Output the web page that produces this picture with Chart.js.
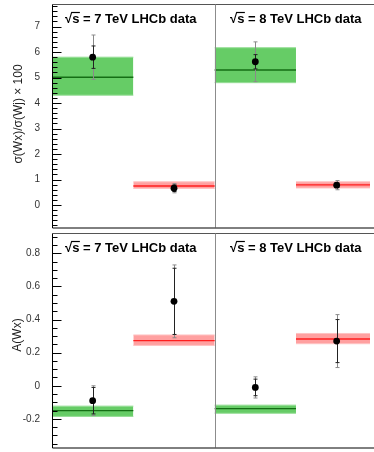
<!DOCTYPE html>
<html>
<head>
<meta charset="utf-8">
<script src="https://cdn.jsdelivr.net/npm/chart.js@4.4.1/dist/chart.umd.min.js"></script>
<style>
  html, body { margin: 0; padding: 0; background: #fff; }
  #wrap { position: relative; width: 374px; height: 452px; overflow: hidden; }
  canvas { position: absolute; left: 0; }
  #ratio { top: 0; }
  #asym { top: 229px; }
</style>
</head>
<body>
<div id="wrap">
  <canvas id="ratio" width="374" height="232"></canvas>
  <canvas id="asym" width="374" height="223"></canvas>
</div>
<script>
// Bins along x: 7 TeV (Wc, Wb), then 8 TeV (Wc, Wb)
const ENERGIES = ['7 TeV', '8 TeV'];
const CHANNELS = ['Wc', 'Wb', 'Wc', 'Wb'];
const BIN_LO = [0, 1, 2, 3];
const BIN_HI = [1, 2, 3, 4];

// σ(Wx)/σ(Wj) × 100 : theory prediction bands
const RATIO_PRED    = [5.01, 0.75, 5.30, 0.79];
const RATIO_PRED_LO = [4.31, 0.65, 4.80, 0.67];
const RATIO_PRED_HI = [5.80, 0.91, 6.17, 0.91];
// σ(Wx)/σ(Wj) × 100 : LHCb measurements (stat. and total uncertainty)
const RATIO_MEAS = [5.80, 0.66, 5.62, 0.78];
const RATIO_STAT = [0.44, 0.13, 0.28, 0.08];
const RATIO_TOT  = [0.87, 0.18, 0.78, 0.18];

// A(Wx) : theory prediction bands
const ASYM_PRED    = [-0.150, 0.273, -0.138, 0.283];
const ASYM_PRED_LO = [-0.185, 0.244, -0.166, 0.254];
const ASYM_PRED_HI = [-0.123, 0.307, -0.117, 0.316];
// A(Wx) : LHCb measurements
const ASYM_MEAS = [-0.09, 0.51, -0.01, 0.27];
const ASYM_STAT = [0.08, 0.20, 0.05, 0.13];
const ASYM_TOT  = [0.09, 0.22, 0.064, 0.16];

// Axis tick labels
const RATIO_TICKS = [0, 1, 2, 3, 4, 5, 6, 7];
const ASYM_TICKS = [-0.2, 0, 0.2, 0.4, 0.6, 0.8];

const FONT = '"Liberation Sans", Arial, Helvetica, sans-serif';
const STYLE = {
  Wc: { fill: 'rgb(102,204,102)', edge: 'rgb(150,222,150)', line: 'rgb(20,110,20)' },
  Wb: { fill: 'rgb(255,160,160)', edge: 'rgb(255,195,195)', line: 'rgb(255,30,30)' }
};

function buildDatasets(pred, lo, hi, meas) {
  const sets = [];
  // measured points first so they sit on top
  sets.push({
    label: 'LHCb data',
    data: meas.map((v, i) => ({ x: (BIN_LO[i] + BIN_HI[i]) / 2, y: v })),
    showLine: false,
    pointRadius: 3.4,
    pointBackgroundColor: '#000',
    pointBorderColor: '#000',
    pointBorderWidth: 0,
    order: 0
  });
  pred.forEach((p, i) => {
    const st = STYLE[CHANNELS[i]];
    const seg = v => [{ x: BIN_LO[i], y: v }, { x: BIN_HI[i], y: v }];
    sets.push({ label: 'lo', data: seg(lo[i]), borderColor: st.edge, borderWidth: 1,
                pointRadius: 0, fill: false, order: 3 });
    sets.push({ label: 'hi', data: seg(hi[i]), borderColor: st.edge, borderWidth: 1,
                pointRadius: 0, fill: '-1', backgroundColor: st.fill, order: 3 });
    sets.push({ label: 'pred', data: seg(p), borderColor: st.line, borderWidth: 1.4,
                pointRadius: 0, fill: false, order: 2 });
  });
  return sets;
}

// error bars for the measured points, drawn just before the markers
function errorBarPlugin(stat, tot) {
  return {
    id: 'errbars',
    beforeDatasetDraw(chart, args) {
      if (args.index !== 0) return;
      const { ctx, scales: { x, y } } = chart;
      const meas = chart.data.datasets[0].data;
      ctx.save();
      ctx.lineWidth = 1;
      meas.forEach((pt, i) => {
        const px = Math.round(x.getPixelForValue(pt.x)) + 0.5;
        const bar = (err, color, cap) => {
          const y1 = y.getPixelForValue(pt.y + err);
          const y2 = y.getPixelForValue(pt.y - err);
          ctx.strokeStyle = color;
          ctx.beginPath();
          ctx.moveTo(px, y1); ctx.lineTo(px, y2);
          ctx.moveTo(px - cap, y1); ctx.lineTo(px + cap, y1);
          ctx.moveTo(px - cap, y2); ctx.lineTo(px + cap, y2);
          ctx.stroke();
        };
        bar(tot[i], '#8a8a8a', 2);
        bar(stat[i], '#222', 2);
      });
      ctx.restore();
    }
  };
}

// frame, inward ticks, divider, panel labels and y title
function framePlugin(opts) {
  return {
    id: 'frame',
    afterDatasetsDraw(chart) {
      const { ctx, chartArea: a, scales: { x, y } } = chart;
      const L = Math.round(a.left) + 0.5, T = Math.round(a.top) + 0.5, B = Math.round(a.bottom) - 0.5;
      const W = chart.width;
      ctx.save();
      ctx.lineWidth = 1;
      // top border
      ctx.strokeStyle = '#555';
      ctx.beginPath(); ctx.moveTo(L, T); ctx.lineTo(W, T); ctx.stroke();
      // divider between the two energies
      const D = Math.round(x.getPixelForValue(2)) + 0.5;
      ctx.strokeStyle = '#8c8c8c';
      ctx.beginPath(); ctx.moveTo(D, T); ctx.lineTo(D, B); ctx.stroke();
      // axes
      ctx.strokeStyle = '#000';
      ctx.beginPath(); ctx.moveTo(L, T); ctx.lineTo(L, B + 0.5); ctx.lineTo(W, B + 0.5); ctx.stroke();
      // ticks pointing into the frame
      ctx.beginPath();
      const n = Math.round((y.max - y.min) / opts.minor) + 2;
      const start = Math.ceil(y.min / opts.minor - 1e-6);
      for (let k = start; k < start + n; k++) {
        const v = k * opts.minor;
        if (v > y.max + 1e-9) break;
        const major = Math.abs(k % opts.perMajor) < 1e-9;
        const py = Math.round(y.getPixelForValue(v)) + 0.5;
        ctx.moveTo(L, py); ctx.lineTo(L + (major ? 9 : 5), py);
      }
      ctx.stroke();

      // panel labels
      ctx.fillStyle = '#000';
      ctx.font = 'bold 13px ' + FONT;
      ctx.textBaseline = 'alphabetic';
      ctx.textAlign = 'left';
      const base = a.top + 19;
      [L + 12.5, D + 14.5].forEach((tx, j) => {
        const txt = '√s = ' + ENERGIES[j] + ' LHCb data';
        ctx.fillText(txt, tx, base);
        const w1 = ctx.measureText('√').width;
        const w2 = ctx.measureText('√s').width;
        ctx.strokeStyle = '#000';
        ctx.lineWidth = 1.2;
        ctx.beginPath();
        ctx.moveTo(tx + w1 - 1, base - 10.5);
        ctx.lineTo(tx + w2 + 0.5, base - 10.5);
        ctx.stroke();
      });

      // y axis title
      ctx.font = '12px ' + FONT;
      ctx.fillStyle = '#222';
      ctx.textAlign = 'center';
      ctx.textBaseline = 'middle';
      ctx.translate(opts.titleX, opts.titleY);
      ctx.rotate(-Math.PI / 2);
      ctx.fillText(opts.title, 0, 0);
      ctx.restore();
    }
  };
}

function makeChart(id, cfg) {
  return new Chart(document.getElementById(id), {
    type: 'line',
    data: { datasets: buildDatasets(cfg.pred, cfg.lo, cfg.hi, cfg.meas) },
    options: {
      responsive: false,
      animation: false,
      events: [],
      layout: { padding: cfg.padding },
      plugins: { legend: { display: false }, tooltip: { enabled: false } },
      scales: {
        x: { type: 'linear', min: 0, max: 3.91, display: false },
        y: {
          type: 'linear', min: cfg.ymin, max: cfg.ymax,
          afterBuildTicks: s => { s.ticks = cfg.ticks.map(v => ({ value: v })); },
          afterFit: s => { s.width = 52; s.paddingTop = 0; s.paddingBottom = 0; },
          ticks: {
            autoSkip: false, padding: 4, color: '#333',
            font: { family: FONT, size: 10 },
            callback: v => String(Math.round(v * 10) / 10)
          },
          grid: { display: false },
          border: { display: false }
        }
      }
    },
    plugins: [errorBarPlugin(cfg.stat, cfg.tot), framePlugin(cfg.frame)]
  });
}

makeChart('ratio', {
  pred: RATIO_PRED, lo: RATIO_PRED_LO, hi: RATIO_PRED_HI,
  meas: RATIO_MEAS, stat: RATIO_STAT, tot: RATIO_TOT,
  ticks: RATIO_TICKS, ymin: -0.90, ymax: 7.886,
  padding: { top: 3, bottom: 4, left: 0, right: 0 },
  frame: { minor: 0.2, perMajor: 5, title: 'σ(Wx)/σ(Wj) × 100', titleX: 19, titleY: 114 }
});

makeChart('asym', {
  pred: ASYM_PRED, lo: ASYM_PRED_LO, hi: ASYM_PRED_HI,
  meas: ASYM_MEAS, stat: ASYM_STAT, tot: ASYM_TOT,
  ticks: ASYM_TICKS, ymin: -0.376, ymax: 0.923,
  padding: { top: 0, bottom: 1, left: 0, right: 0 },
  frame: { minor: 0.05, perMajor: 4, title: 'A(Wx)', titleX: 18, titleY: 106 }
});
</script>
</body>
</html>
